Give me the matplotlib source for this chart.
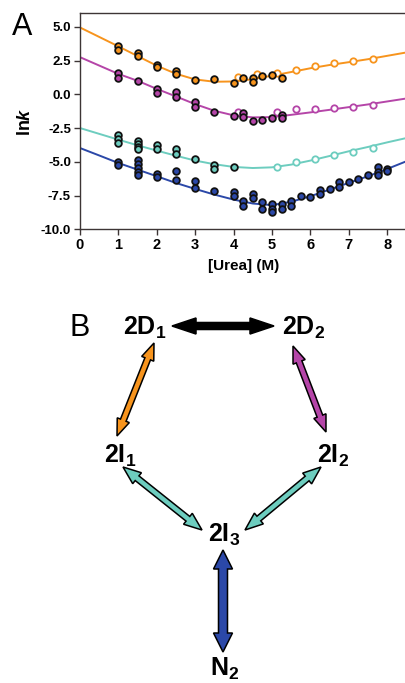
import numpy as np
import matplotlib
matplotlib.use("Agg")
import matplotlib.pyplot as plt
from matplotlib.patches import Polygon

plt.rcParams['font.family'] = ['Liberation Sans', 'DejaVu Sans']
plt.rcParams['mathtext.fontset'] = 'custom'
plt.rcParams['mathtext.rm'] = 'Liberation Sans:bold'
plt.rcParams['mathtext.bf'] = 'Liberation Sans:bold'
plt.rcParams['mathtext.it'] = 'Liberation Sans:bold:italic'
plt.rcParams['axes.unicode_minus'] = False

# ---------------- data ----------------
C_OR = '#f7941d'
C_MG = '#b545a8'
C_CY = '#6dcdbf'
C_BL = '#2b48a8'

fit_x = [0, 0.5, 1, 1.5, 2, 2.5, 3, 3.5, 4, 4.5, 5, 5.5, 6, 6.5, 7, 7.5, 8, 8.5]
fit_orange = [4.95, 4.25, 3.55, 2.83, 2.12, 1.52, 1.10, 0.93, 0.95, 1.12, 1.38, 1.65, 1.93, 2.17, 2.38, 2.60, 2.85, 3.10]
fit_magenta = [2.75, 2.13, 1.51, 1.00, 0.40, -0.16, -0.73, -1.22, -1.56, -1.71, -1.69, -1.52, -1.34, -1.15, -0.95, -0.75, -0.53, -0.31]
fit_cyan = [-2.50, -2.93, -3.36, -3.78, -4.17, -4.55, -4.91, -5.18, -5.38, -5.46, -5.41, -5.21, -4.91, -4.57, -4.22, -3.90, -3.56, -3.24]
fit_blue = [-3.98, -4.53, -5.09, -5.58, -6.07, -6.57, -7.01, -7.43, -7.80, -8.09, -8.21, -7.96, -7.55, -7.06, -6.56, -6.07, -5.53, -4.96]

# filled (black-edged) points
or_fx = [1, 1, 1.5, 1.5, 2, 2, 2.5, 2.5, 3, 3.5, 4, 4.25, 4.5, 4.5, 4.75, 5, 5.25]
or_fy = [3.55, 3.3, 3.05, 2.8, 2.2, 2.05, 1.7, 1.5, 1.07, 1.1, 0.87, 1.2, 1.2, 0.93, 1.37, 1.44, 1.22]
or_ox = [4.12, 4.62, 5.12, 5.62, 6.12, 6.62, 7.12, 7.62]
or_oy = [1.3, 1.47, 1.57, 1.81, 2.11, 2.33, 2.46, 2.63]

mg_fx = [1, 1, 1.5, 2, 2, 2.5, 2.5, 3, 3, 3.5, 4, 4.25, 4.25, 4.5, 4.75, 5, 5.25, 5.25]
mg_fy = [1.57, 1.2, 1.02, 0.38, 0.13, 0.16, -0.21, -0.6, -0.95, -1.3, -1.62, -1.4, -1.69, -2.0, -1.89, -1.72, -1.52, -1.77]
mg_ox = [4.12, 5.12, 5.62, 6.12, 6.62, 7.12, 7.62]
mg_oy = [-1.32, -1.32, -1.08, -1.1, -1.0, -0.93, -0.8]

cy_fx = [1, 1, 1, 1.5, 1.5, 1.5, 1.5, 2, 2, 2.5, 2.5, 3, 3.5, 3.5, 4]
cy_fy = [-3.05, -3.32, -3.61, -3.47, -3.67, -3.88, -4.08, -3.74, -4.06, -4.06, -4.41, -4.76, -5.22, -5.52, -5.4]
cy_ox = [5.12, 5.62, 6.12, 6.62, 7.12, 7.62]
cy_oy = [-5.35, -5.05, -4.8, -4.46, -4.24, -3.99]

bl_fx = [1, 1, 1.5, 1.5, 1.5, 1.5, 1.5, 2, 2, 2.5, 2.5, 3, 3, 3.5, 4, 4,
         4.25, 4.25, 4.5, 4.5, 4.75, 4.75, 5, 5, 5, 5.25, 5.25, 5.5, 5.5,
         5.75, 6, 6.25, 6.25, 6.5, 6.75, 6.75, 7, 7.25, 7.5, 7.75, 7.75, 7.75, 8, 8]
bl_fy = [-4.98, -5.22, -4.9, -5.17, -5.47, -5.76, -6.01, -5.89, -6.13, -5.69, -6.33, -6.39, -6.93, -7.15, -7.2, -7.57,
         -7.87, -8.26, -7.4, -7.65, -8.0, -8.5, -8.13, -8.5, -8.75, -8.13, -8.5, -7.94, -8.26,
         -7.52, -7.64, -7.07, -7.37, -7.02, -6.53, -6.87, -6.48, -6.26, -5.96, -5.39, -5.72, -6.01, -5.5, -5.65]

x_ticks = [0, 1, 2, 3, 4, 5, 6, 7, 8]
y_ticks = [5.0, 2.5, 0.0, -2.5, -5.0, -7.5, -10.0]
y_tick_labels = ['5.0', '2.5', '0.0', '-2.5', '-5.0', '-7.5', '-10.0']

# ---------------- figure ----------------
W, H = 405, 683
fig = plt.figure(figsize=(W / 100, H / 100), dpi=100)
fig.patch.set_facecolor('white')

ax = fig.add_axes([80 / W, 1 - 229.3 / H, 326.4 / W, 216 / H])
ax.set_xlim(0, 8.5)
ax.set_ylim(-10, 6)
spine_c = '#3d3535'
for s in ['left', 'bottom', 'top']:
    ax.spines[s].set_color(spine_c)
    ax.spines[s].set_linewidth(1.0)
ax.spines['right'].set_visible(False)

series = [
    (fit_orange, or_fx, or_fy, or_ox, or_oy, C_OR),
    (fit_magenta, mg_fx, mg_fy, mg_ox, mg_oy, C_MG),
    (fit_cyan, cy_fx, cy_fy, cy_ox, cy_oy, C_CY),
    (fit_blue, bl_fx, bl_fy, None, None, C_BL),
]
for fit, fx, fy, ox, oy, c in series:
    ax.plot(fit_x, fit, '-', color=c, lw=1.4, zorder=2)
    if ox is not None:
        ax.plot(ox, oy, 'o', ms=4.6, mfc='white', mec=c, mew=1.3, zorder=3, ls='none')
    ax.plot(fx, fy, 'o', ms=4.8, mfc=c, mec='#111111', mew=1.3, zorder=4, ls='none')

ax.set_xticks(x_ticks)
ax.set_xticklabels([str(t) for t in x_ticks], fontsize=10.5, fontweight='bold')
ax.set_yticks(y_ticks)
ax.set_yticklabels(y_tick_labels, fontsize=9.5, fontweight='bold')
ax.tick_params(direction='out', length=4.5, width=1.0, color=spine_c, pad=2)
ax.set_xlabel('[Urea] (M)', fontsize=11, fontweight='bold', labelpad=5)
ax.set_ylabel(r'ln$\mathit{k}$', fontsize=13, fontweight='bold', labelpad=5)
fig.text(12 / W, 1 - 35 / H, 'A', fontsize=22, ha='left', va='baseline')

# ---------------- panel B ----------------
bx = fig.add_axes([0, 0, 1, 383 / H])
bx.set_xlim(0, W)
bx.set_ylim(H, 300)
bx.axis('off')


def double_arrow(p0, p1, shaft, head, hlen, color):
    p0 = np.array(p0, float)
    p1 = np.array(p1, float)
    d = p1 - p0
    L = np.hypot(*d)
    u = d / L
    n = np.array([-u[1], u[0]])
    s, h = shaft / 2, head / 2
    pts = [
        p0,
        p0 + u * hlen + n * h,
        p0 + u * hlen + n * s,
        p1 - u * hlen + n * s,
        p1 - u * hlen + n * h,
        p1,
        p1 - u * hlen - n * h,
        p1 - u * hlen - n * s,
        p0 + u * hlen - n * s,
        p0 + u * hlen - n * h,
    ]
    bx.add_patch(Polygon(pts, closed=True, fc=color, ec='black', lw=1.1, joinstyle='miter'))


arrows = [
    ((172, 326), (274, 326), 7, 16, 24, 'black'),
    ((154, 343), (117, 436), 6, 13, 17, C_OR),
    ((293, 346), (326, 432), 6, 13, 17, C_MG),
    ((123, 467), (202, 530), 6, 14, 18, C_CY),
    ((321, 467), (245, 530), 6, 14, 18, C_CY),
    ((223, 550), (223, 652), 9, 19, 19, C_BL),
]
for a in arrows:
    double_arrow(*a)

labels = [
    (145, 335, r'$\mathbf{2D_1}$'),
    (304, 335, r'$\mathbf{2D_2}$'),
    (120, 463, r'$\mathbf{2I_1}$'),
    (333, 463, r'$\mathbf{2I_2}$'),
    (224, 542, r'$\mathbf{2I_3}$'),
    (225, 676, r'$\mathbf{N_2}$'),
]
for x, y, t in labels:
    bx.text(x, y, t, fontsize=18, ha='center', va='baseline')
bx.text(70, 336, 'B', fontsize=22, ha='left', va='baseline')

fig.savefig('out.png', dpi=100, facecolor='white')
